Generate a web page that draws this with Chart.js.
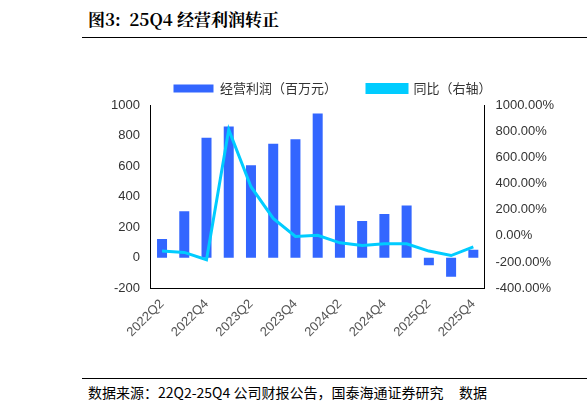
<!DOCTYPE html><html><head><meta charset="utf-8">
<script src="https://cdn.jsdelivr.net/npm/chart.js@4"></script>
<style>body{margin:0;width:587px;height:414px;position:relative;background:#fff;font-family:"Noto Sans CJK SC";overflow:hidden}
#t{position:absolute;left:88px;top:6px;font-size:17px;font-weight:bold;color:#000;font-family:"Noto Serif CJK SC","Noto Sans CJK SC"}
#l1{position:absolute;left:82px;right:0;top:37px;border-top:1px solid #000}
#l2{position:absolute;left:82px;right:0;top:378px;border-top:1px solid #000}
#s{position:absolute;left:88px;top:382px;font-size:14px;color:#000;white-space:nowrap}
#c{position:absolute;left:80px;top:52px;width:507px;height:300px}</style></head><body>
<div id="t">图3:&nbsp; 25Q4 经营利润转正</div><div id="l1"></div>
<div id="c"><canvas id="cv"></canvas></div>
<div id="l2"></div><div id="s">数据来源：22Q2-25Q4 公司财报公告，国泰海通证券研究&nbsp;&nbsp;&nbsp;&nbsp;&nbsp;数据</div>
<script>
const categories=["2022Q2","2022Q3","2022Q4","2023Q1","2023Q2","2023Q3","2023Q4","2024Q1","2024Q2","2024Q3","2024Q4","2025Q1","2025Q2","2025Q3","2025Q4"];
const profit=[123,305,785,860,605,747,775,944,342,240,286,342,-50,-125,52];
const yoy=[-116,-126,-182,812,376,134,-4,5,-53,-73,-60,-60,-116,-150,-84];
new Chart(document.getElementById('cv'),{data:{labels:categories,datasets:[
{type:'bar',label:'经营利润（百万元）',data:profit,backgroundColor:'#3366ff',yAxisID:'y',barPercentage:0.45,categoryPercentage:1,order:2},
{type:'line',label:'同比（右轴）',data:yoy,borderColor:'#00ccff',backgroundColor:'#00ccff',borderWidth:3,pointRadius:0,tension:0,yAxisID:'y1',order:1}]},
options:{responsive:true,maintainAspectRatio:false,animation:false,
layout:{padding:{left:28,right:30,top:0,bottom:12}},
plugins:{legend:{position:'top',labels:{sort:(a,b)=>a.datasetIndex-b.datasetIndex,font:{size:13,family:'Noto Sans CJK SC'},color:'#333',boxWidth:40,boxHeight:8,padding:30}},tooltip:{enabled:false}},
scales:{x:{grid:{display:false},border:{color:'#000'},ticks:{autoSkip:false,maxRotation:45,minRotation:45,padding:0,color:'#555',font:{size:13},callback:(v,i)=>i%2===0?categories[i]:''}},
y:{min:-200,max:1000,ticks:{stepSize:200,color:'#333',font:{size:13},callback:v=>String(v)},grid:{display:false},border:{color:'#000'}},
y1:{position:'right',min:-400,max:1000,ticks:{stepSize:200,color:'#333',font:{size:13},callback:v=>v.toFixed(2)+'%'},grid:{display:false},border:{color:'#000'}}}}});
</script></body></html>
